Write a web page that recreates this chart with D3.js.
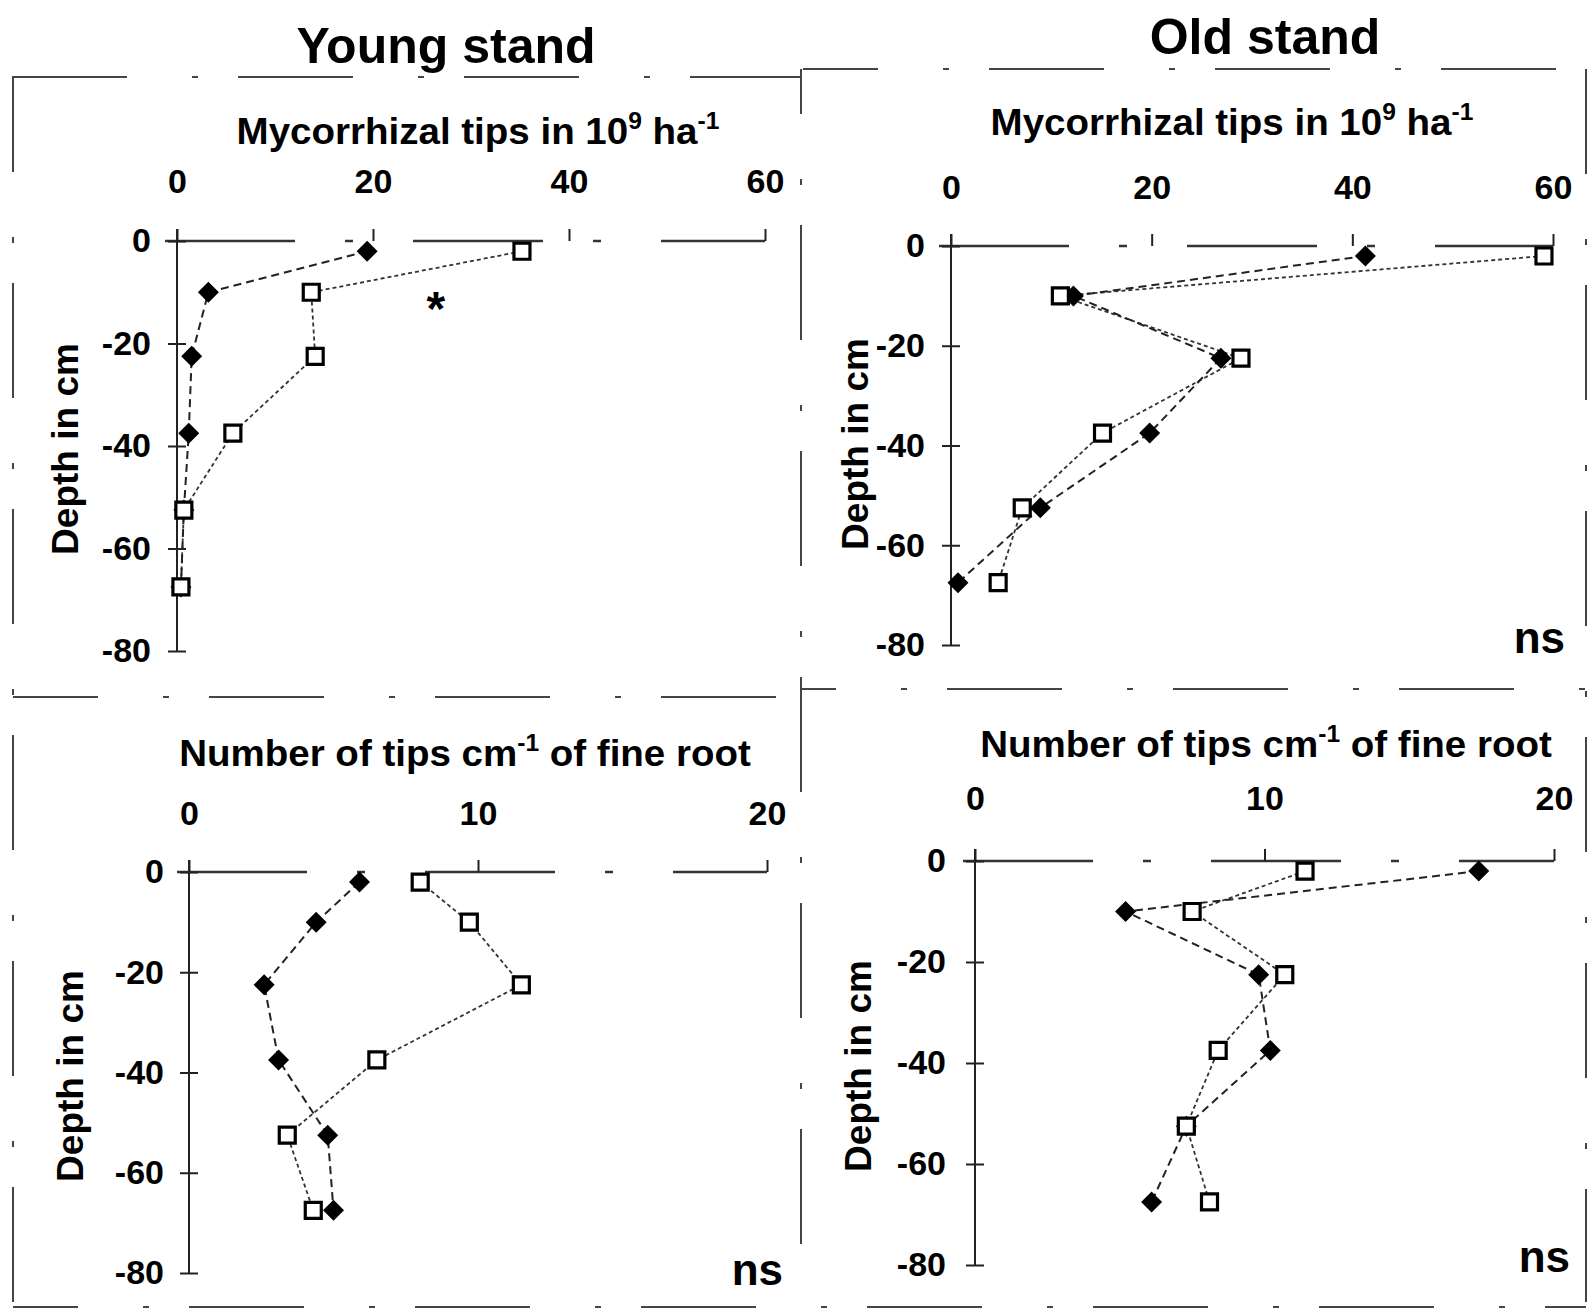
<!DOCTYPE html>
<html>
<head>
<meta charset="utf-8">
<script src="https://cdn.jsdelivr.net/npm/d3@7"></script>
<style>
  html, body { margin: 0; padding: 0; background: #fff; }
  svg { display: block; font-family: "Liberation Sans", Arial, sans-serif; font-weight: bold; }
</style>
</head>
<body>
<svg id="chart" width="1589" height="1310"></svg>
<script>
// depth of each sampled layer (cm)
const depths = [-2, -10, -22.5, -37.5, -52.5, -67.5];

// mycorrhizal tips in 10^9 ha^-1 (filled diamonds / open squares)
const youngMycFilled = [19.4, 3.2, 1.5, 1.2, 0.7, 0.4];
const youngMycOpen   = [35.2, 13.7, 14.1, 5.7, 0.7, 0.4];
const oldMycFilled   = [41.3, 12.2, 26.9, 19.8, 8.9, 0.7];
const oldMycOpen     = [59.1, 10.9, 28.9, 15.1, 7.1, 4.7];

// number of tips per cm of fine root
const youngTipsFilled = [5.9, 4.4, 2.6, 3.1, 4.8, 5.0];
const youngTipsOpen   = [8.0, 9.7, 11.5, 6.5, 3.4, 4.3];
const oldTipsFilled   = [17.4, 5.2, 9.8, 10.2, 7.3, 6.1];
const oldTipsOpen     = [11.4, 7.5, 10.7, 8.4, 7.3, 8.1];

const mycTicks = [0, 20, 40, 60];
const tipsTicks = [0, 10, 20];
const depthTicks = [0, -20, -40, -60, -80];

const standTitles = ['Young stand', 'Old stand'];
const mycLabel = [{t: 'Mycorrhizal tips in 10'}, {t: '9', sup: true}, {t: ' ha'}, {t: '-1', sup: true}];
const tipsLabel = [{t: 'Number of tips cm'}, {t: '-1', sup: true}, {t: ' of fine root'}];
const depthLabel = 'Depth in cm';

const svg = d3.select('#chart');

const panels = [
  {xr: [177, 765], yr: [241, 651], xmax: 60, ticks: mycTicks, filled: youngMycFilled, open: youngMycOpen,
   label: mycLabel, labelAt: [478, 144], depthAt: [66, 449], xPad: 36, yPad: 17, ns: null, star: [26.4, -11.2]},
  {xr: [951, 1553], yr: [246, 645], xmax: 60, ticks: mycTicks, filled: oldMycFilled, open: oldMycOpen,
   label: mycLabel, labelAt: [1232, 135], depthAt: [856, 444], xPad: 35, yPad: 17, ns: [1565, 653]},
  {xr: [189, 767], yr: [872, 1273], xmax: 20, ticks: tipsTicks, filled: youngTipsFilled, open: youngTipsOpen,
   label: tipsLabel, labelAt: [465, 766], depthAt: [71, 1076], xPad: 35, yPad: 16, ns: [783, 1285]},
  {xr: [975, 1554], yr: [861, 1265], xmax: 20, ticks: tipsTicks, filled: oldTipsFilled, open: oldTipsOpen,
   label: tipsLabel, labelAt: [1266, 757], depthAt: [859, 1066], xPad: 39, yPad: 20, ns: [1570, 1272]}
];

// scanned frame lines around the panels
const frame = svg.append('g')
  .attr('stroke', '#444')
  .attr('stroke-width', 2)
  .attr('fill', 'none');
const frameLines = [
  [12, 77, 800, 77, 0], [803, 69, 1587, 69, 40],
  [13, 77, 13, 1302, 20], [801, 69, 801, 1302, 70], [1586, 69, 1586, 1302, 10],
  [13, 697, 801, 697, 30], [801, 689, 1586, 689, 80],
  [13, 1307, 1586, 1307, 50]
];
frameLines.forEach(([x1, y1, x2, y2, off]) => {
  frame.append('line')
    .attr('x1', x1).attr('y1', y1).attr('x2', x2).attr('y2', y2)
    .attr('stroke-dasharray', '115,65,6,40')
    .attr('stroke-dashoffset', off);
});

// stand titles
svg.selectAll('text.title')
  .data(standTitles)
  .join('text')
  .attr('class', 'title')
  .attr('x', (d, i) => i === 0 ? 446 : 1265)
  .attr('y', (d, i) => i === 0 ? 63 : 54)
  .attr('text-anchor', 'middle')
  .attr('font-size', 50)
  .text(d => d);

function addLabel(g, parts, x, y) {
  const t = g.append('text')
    .attr('transform', `translate(${x},${y}) scale(1.07,1)`)
    .attr('text-anchor', 'middle')
    .attr('font-size', 36);
  let shifted = false;
  parts.forEach(p => {
    const s = t.append('tspan').text(p.t);
    if (p.sup && !shifted) { s.attr('dy', -15).attr('font-size', 23); shifted = true; }
    else if (!p.sup && shifted) { s.attr('dy', 15); shifted = false; }
  });
}

panels.forEach(p => {
  const g = svg.append('g');
  const x = d3.scaleLinear().domain([0, p.xmax]).range(p.xr);
  const y = d3.scaleLinear().domain([0, -80]).range(p.yr);

  // depth-0 line and depth axis line
  g.append('line')
    .attr('x1', x(0) - 12).attr('x2', x(p.xmax))
    .attr('y1', y(0)).attr('y2', y(0))
    .attr('stroke', '#333').attr('stroke-width', 2.5)
    .attr('stroke-dasharray', '130,50,8,60');
  g.append('line')
    .attr('x1', x(0)).attr('x2', x(0))
    .attr('y1', y(0) - 12).attr('y2', y(-80))
    .attr('stroke', '#222').attr('stroke-width', 2);

  const xAxis = g.append('g')
    .attr('transform', `translate(0,${y(0)})`)
    .call(d3.axisTop(x).tickValues(p.ticks).tickSize(12).tickSizeOuter(0)
      .tickPadding(p.xPad).tickFormat(d => String(d)));
  const yAxis = g.append('g')
    .attr('transform', `translate(${x(0)},0)`)
    .call(d3.axisLeft(y).tickValues(depthTicks).tickSize(9).tickSizeOuter(0)
      .tickPadding(p.yPad).tickFormat(d => String(d)));
  [xAxis, yAxis].forEach(a => {
    a.attr('font-size', 34).attr('font-family', null).attr('font-weight', 'bold');
    a.select('.domain').remove();
    a.selectAll('.tick line').attr('stroke', '#222').attr('stroke-width', 2);
    a.selectAll('.tick text').attr('fill', '#000');
  });
  yAxis.selectAll('.tick line').attr('x2', 9).attr('x1', -9);

  addLabel(g, p.label, p.labelAt[0], p.labelAt[1]);

  g.append('text')
    .attr('transform', `translate(${p.depthAt[0] + 12},${p.depthAt[1]}) rotate(-90)`)
    .attr('text-anchor', 'middle')
    .attr('font-size', 37)
    .text(depthLabel);

  const line = d3.line().x(d => x(d[0])).y(d => y(d[1]));
  const filledPts = p.filled.map((v, i) => [v, depths[i]]);
  const openPts = p.open.map((v, i) => [v, depths[i]]);

  g.append('path').datum(openPts)
    .attr('d', line).attr('fill', 'none')
    .attr('stroke', '#333').attr('stroke-width', 1.8)
    .attr('stroke-dasharray', '4,3');
  g.append('path').datum(filledPts)
    .attr('d', line).attr('fill', 'none')
    .attr('stroke', '#222').attr('stroke-width', 2)
    .attr('stroke-dasharray', '8,5');

  const diamond = d3.symbol(d3.symbolDiamond2, Math.pow(10.5 / 0.62625, 2));
  const square = d3.symbol(d3.symbolSquare, 16 * 16);

  g.selectAll('path.filled')
    .data(filledPts)
    .join('path')
    .attr('class', 'filled')
    .attr('transform', d => `translate(${x(d[0])},${y(d[1])})`)
    .attr('d', diamond)
    .attr('fill', '#000');
  g.selectAll('path.open')
    .data(openPts)
    .join('path')
    .attr('class', 'open')
    .attr('transform', d => `translate(${x(d[0])},${y(d[1])})`)
    .attr('d', square)
    .attr('fill', '#fff')
    .attr('stroke', '#000')
    .attr('stroke-width', 3.2);

  if (p.ns) {
    g.append('text')
      .attr('x', p.ns[0]).attr('y', p.ns[1])
      .attr('text-anchor', 'end')
      .attr('font-size', 44)
      .text('ns');
  }
  if (p.star) {
    g.append('text')
      .attr('x', x(p.star[0])).attr('y', y(p.star[1]) + 27)
      .attr('text-anchor', 'middle')
      .attr('font-size', 48)
      .text('*');
  }
});
</script>
</body>
</html>
